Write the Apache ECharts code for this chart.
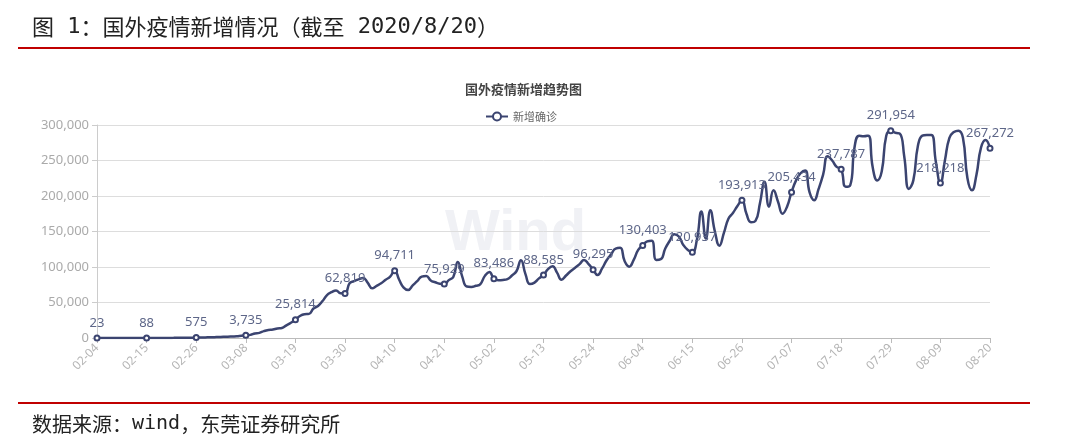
<!DOCTYPE html>
<html>
<head>
<meta charset="utf-8">
<script src="https://cdn.jsdelivr.net/npm/echarts@6/dist/echarts.min.js"></script>
<style>
html,body{margin:0;padding:0;background:#fff;}
#c{width:1080px;height:447px;}
</style>
</head>
<body>
<div id="c"></div>
<script>
// Daily dates 2020-02-04 .. 2020-08-20
const categories = (function(){
  const out = [];
  const d = new Date(Date.UTC(2020,1,4));
  const end = new Date(Date.UTC(2020,7,20));
  while (d <= end) {
    const m = String(d.getUTCMonth()+1).padStart(2,'0');
    const dd = String(d.getUTCDate()).padStart(2,'0');
    out.push(m + '-' + dd);
    d.setUTCDate(d.getUTCDate()+1);
  }
  return out;
})();

const newCases = [
  23, 31, 26, 41, 36, 39, 45, 33, 27, 52, 61,
  88, 57, 80, 95, 140, 162, 190, 260, 300, 370, 410,
  575, 720, 830, 1020, 1210, 1450, 1700, 1850, 2150, 2450, 3150,
  3735, 4400, 6300, 7200, 9700, 11300, 11900, 13500, 14200, 17800, 21500,
  25814, 31000, 33500, 34000, 41500, 45000, 52000, 60500, 64500, 67000, 63000,
  62819, 77000, 80000, 82500, 84500, 78000, 70000, 73500, 77000, 82000, 86500,
  94711, 82000, 71000, 67600, 74000, 80000, 86500, 87500, 81000, 78500, 76500,
  75929, 81500, 86000, 107000, 86000, 72500, 72000, 73500, 76000, 87500, 93000,
  83486, 81500, 81800, 83000, 88000, 94000, 109500, 90000, 76000, 78000, 84000,
  88585, 97000, 101000, 92000, 82000, 88000, 94000, 99000, 104000, 110000, 104000,
  96295, 88700, 98000, 109500, 118000, 126000, 127000, 108000, 100500, 110000, 124000,
  130403, 136000, 137000, 110000, 111000, 126000, 137000, 146000, 143000, 131000, 124000,
  120937, 138000, 178000, 140000, 180000, 150000, 130000, 148000, 168000, 176000, 186000,
  193913, 175000, 163000, 165000, 190000, 220000, 185000, 208000, 192000, 175000, 185000,
  205434, 222000, 232000, 236000, 205000, 194000, 210000, 230000, 256000, 250000, 241000,
  237787, 213000, 215000, 270000, 285000, 284000, 285000, 240000, 222000, 235000, 285000,
  291954, 289000, 288000, 255000, 210000, 222000, 270000, 285000, 286000, 286000, 248000,
  218218, 250000, 282000, 290000, 292000, 282000, 225000, 208000, 230000, 268000, 279000,
  267272
];

const yTicks = [0, 50000, 100000, 150000, 200000, 250000, 300000];
const seriesName = '新增确诊';
const chartTitle = '国外疫情新增趋势图';
const headerRich = '{c|图}{m| 1}{c|：国外疫情新增情况（截至}{m| 2020/8/20}{c|）}';
const footerRich = '{c|数据来源：}{m|wind}{c|，东莞证券研究所}';

const fmt = v => String(v).replace(/\B(?=(\d{3})+(?!\d))/g, ',');

const chart = echarts.init(document.getElementById('c'), null, {renderer:'canvas'});
chart.setOption({
  animation: false,
  backgroundColor: '#fff',
  title: {
    text: chartTitle,
    left: 460, top: 78,
    textStyle: {fontSize: 13, fontWeight: 'bold', color: '#444', fontFamily: 'Noto Sans CJK SC'}
  },
  legend: {
    data: [seriesName],
    left: 480, top: 106,
    itemWidth: 22, itemHeight: 10,
    textStyle: {fontSize: 11, color: '#666', fontFamily: 'Noto Sans CJK SC'}
  },
  grid: {left: 97, right: 90, top: 125, bottom: 109},
  xAxis: {
    type: 'category',
    data: categories,
    boundaryGap: false,
    axisLine: {lineStyle: {color: '#bbb'}},
    axisTick: {interval: 10, lineStyle: {color: '#bbb'}},
    axisLabel: {interval: 10, rotate: 45, color: '#b5b5b5', fontSize: 12, margin: 8, fontFamily: 'Noto Sans'},
    splitLine: {show: false}
  },
  yAxis: {
    type: 'value',
    min: yTicks[0], max: yTicks[yTicks.length-1], interval: 50000,
    axisLine: {show: true, lineStyle: {color: '#ccc'}},
    axisTick: {show: true, lineStyle: {color: '#ccc'}},
    axisLabel: {color: '#aaa', fontSize: 13, formatter: v => fmt(v), fontFamily: 'Noto Sans'},
    splitLine: {lineStyle: {color: '#ddd'}}
  },
  graphic: [
    {type:'text', left: 32, top: 16, z: 10,
     style:{text: headerRich, fill:'#222',
       rich: {
         c: {fontSize: 22, fill:'#222', fontFamily:'Noto Sans CJK SC'},
         m: {fontSize: 22, fill:'#222', fontFamily:'DejaVu Sans Mono'}
       }}},
    {type:'rect', shape:{x:18, y:47, width:1012, height:2}, style:{fill:'#c00000'}},
    {type:'rect', shape:{x:18, y:402, width:1012, height:2}, style:{fill:'#c00000'}},
    {type:'text', left: 32, top: 414, z: 10,
     style:{text: footerRich, fill:'#222',
       rich: {
         c: {fontSize: 20, fill:'#222', fontFamily:'Noto Sans CJK SC'},
         m: {fontSize: 20, fill:'#222', fontFamily:'DejaVu Sans Mono'}
       }}},
    {type:'text', left: 445, top: 205, z: -1, silent: true,
     style:{text: 'Wind', fontSize: 58, fontWeight: 'bold', fill:'#f0f1f5', fontFamily:'Liberation Sans'}}
  ],
  series: [{
    name: seriesName,
    type: 'line',
    data: newCases,
    smooth: true,
    symbol: 'emptyCircle',
    symbolSize: 5,
    lineStyle: {width: 2.5, color: '#3b4470'},
    itemStyle: {color: '#3b4470', borderColor: '#7a84a8', borderWidth: 1},
    label: {show: true, position: 'top', color: '#5d6688', fontSize: 13, fontFamily: 'Noto Sans',
            formatter: p => fmt(p.value)}
  }]
});
</script>
</body>
</html>
